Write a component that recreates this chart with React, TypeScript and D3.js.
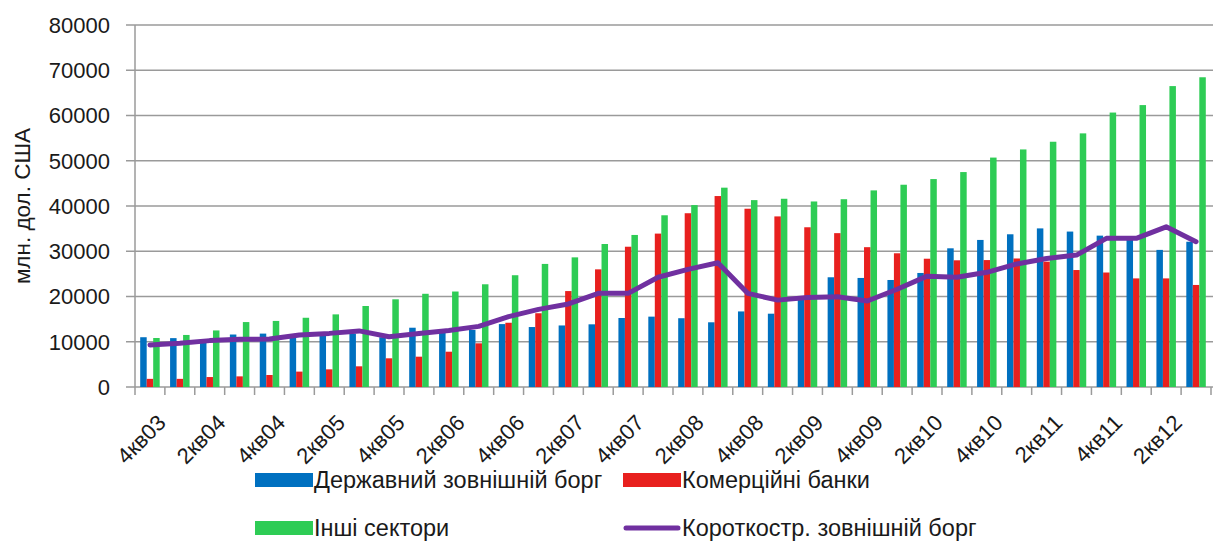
import React from "react";
import * as d3 from "d3";

const categories = [
  "4кв03","1кв04","2кв04","3кв04","4кв04","1кв05","2кв05","3кв05","4кв05",
  "1кв06","2кв06","3кв06","4кв06","1кв07","2кв07","3кв07","4кв07",
  "1кв08","2кв08","3кв08","4кв08","1кв09","2кв09","3кв09","4кв09",
  "1кв10","2кв10","3кв10","4кв10","1кв11","2кв11","3кв11","4кв11",
  "1кв12","2кв12","3кв12",
];

const govDebt = [11000,10800,10300,11600,11800,11100,11300,11800,11000,13100,12000,12600,13900,13250,13600,13850,15250,15550,15200,14300,16700,16200,19500,24250,24100,23650,25200,30650,32500,33750,35050,34350,33450,32500,30300,32100];
const banks = [1800,1800,2200,2350,2650,3400,3900,4570,6340,6700,7800,9650,14200,16300,21200,26000,31000,33900,38400,42200,39400,37700,35300,34000,30900,29550,28350,28000,28050,28400,27700,25850,25300,24000,24000,22550];
const otherSectors = [10830,11500,12500,14350,14600,15300,16050,17900,19380,20600,21100,22700,24700,27200,28650,31600,33600,37950,40200,44050,41300,41600,41000,41500,43450,44700,45950,47500,50700,52500,54200,56050,60650,62300,66500,68450];
const shortTerm = [9300,9650,10250,10550,10600,11500,11850,12400,11100,11800,12500,13400,15550,17150,18350,20700,20700,24250,26000,27470,20700,19200,19800,19950,19000,21600,24500,24250,25350,27200,28400,29150,32850,32850,35400,32100];

const yTicks = [0,10000,20000,30000,40000,50000,60000,70000,80000];
const seriesNames = ["Державний зовнішній борг","Комерційні банки","Інші сектори","Короткостр. зовнішній борг"];
const yTitle = "млн. дол. США";

const COLORS = ["#0070C0", "#E8201E", "#2ECC55", "#7030A0"];
const FONT = "'Liberation Sans', Arial, sans-serif";
const TEXT = "#1a1a1a";

export default function App() {
  const W = 1216, H = 544;
  const left = 135, right = 1211, top = 25, bottom = 387;

  const x = d3.scaleBand<string>().domain(categories).range([left, right]).padding(0);
  const y = d3.scaleLinear().domain([0, 80000]).range([bottom, top]);
  const inner = d3.scaleBand<number>().domain([0, 1, 2]).range([0, x.bandwidth()]).paddingInner(0).paddingOuter(0.8);

  const barSeries = [govDebt, banks, otherSectors];
  const line = d3.line<number>()
    .x((_, i) => (x(categories[i]) as number) + x.bandwidth() / 2)
    .y((d) => y(d));

  const boundaries = d3.range(categories.length + 1).map((i) => left + i * x.step());

  const legendText = (tx: number, ty: number, s: string) => (
    <text x={tx} y={ty} dy="0.36em" fontFamily={FONT} fontSize={23.5} fill={TEXT}>{s}</text>
  );

  return (
    <div style={{ position: "absolute", left: 0, top: 0 }}>
      <svg width={W} height={H} style={{ display: "block", background: "#fff" }}>
        {yTicks.map((t) => (
          <line key={t} x1={126} x2={1213} y1={y(t)} y2={y(t)} stroke="#9a9a9a" strokeWidth={1.5} />
        ))}
        <line x1={left} x2={left} y1={top} y2={bottom} stroke="#9a9a9a" strokeWidth={1.5} />
        {yTicks.map((t) => (
          <text key={"l" + t} x={110} y={y(t)} dy="0.36em" textAnchor="end" fontFamily={FONT} fontSize={22} fill={TEXT}>
            {t}
          </text>
        ))}
        <text transform={`translate(30,206) rotate(-90)`} textAnchor="middle" fontFamily={FONT} fontSize={22.5} fill={TEXT}>
          {yTitle}
        </text>
        {barSeries.map((vals, s) =>
          vals.map((v, i) => (
            <rect
              key={s + "-" + i}
              x={(x(categories[i]) as number) + (inner(s) as number)}
              y={y(v)}
              width={inner.bandwidth()}
              height={bottom - y(v)}
              fill={COLORS[s]}
            />
          ))
        )}
        {boundaries.map((bx, i) => (
          <line key={"t" + i} x1={bx} x2={bx} y1={bottom} y2={bottom + 8} stroke="#9a9a9a" strokeWidth={1.5} />
        ))}
        <path d={line(shortTerm) || ""} fill="none" stroke={COLORS[3]} strokeWidth={5} strokeLinejoin="round" strokeLinecap="round" />
        {categories.map((c, i) =>
          i % 2 === 0 ? (
            <text
              key={"x" + c}
              transform={`translate(${(x(c) as number) + x.bandwidth() / 2 + 6},${bottom + 26}) rotate(-45)`}
              textAnchor="end"
              dy="0.72em"
              fontFamily={FONT}
              fontSize={22}
              fill={TEXT}
            >
              {c}
            </text>
          ) : null
        )}
        <rect x={255} y={473} width={58} height={14} fill={COLORS[0]} />
        {legendText(314, 480, seriesNames[0])}
        <rect x={623} y={473} width={58} height={14} fill={COLORS[1]} />
        {legendText(682, 480, seriesNames[1])}
        <rect x={255} y={521} width={58} height={14} fill={COLORS[2]} />
        {legendText(314, 528, seriesNames[2])}
        <line x1={626} x2={678} y1={528} y2={528} stroke={COLORS[3]} strokeWidth={5} strokeLinecap="round" />
        {legendText(682, 528, seriesNames[3])}
      </svg>
    </div>
  );
}
